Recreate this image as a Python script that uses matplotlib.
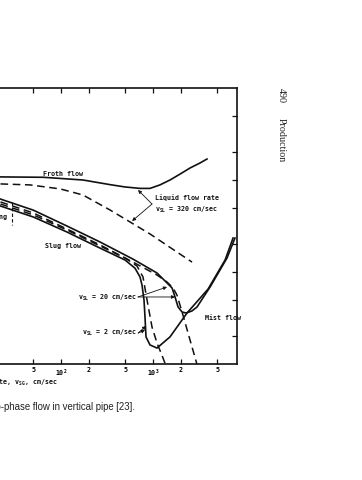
import matplotlib
matplotlib.use("Agg")
import matplotlib.pyplot as plt

# superficial gas velocity v_SG (cm/sec) against the (cropped) y scale
froth_solid_x = [22, 64, 173, 341, 496, 722, 927, 1190, 1530, 1970, 2525, 3240, 3860]
froth_solid_y = [1.08, 1.07, 1.0, 0.89, 0.84, 0.81, 0.81, 0.884, 1.0, 1.16, 1.35, 1.53, 1.69]
froth_dash_x = [22, 46, 98, 173, 341, 927, 2655]
froth_dash_y = [0.906, 0.884, 0.80, 0.687, 0.472, 0.259, 0.128]

# v_SL = 20 cm/sec
v20_solid_x = [22, 50, 116, 265, 606, 1105, 1420, 1610, 1735, 1870, 2070, 2290, 2650, 3010, 4170, 6370, 7780]
v20_solid_y = [0.62, 0.47, 0.316, 0.212, 0.138, 0.0975, 0.076, 0.067, 0.0535, 0.0417, 0.0367, 0.0358,
               0.0377, 0.0417, 0.0687, 0.142, 0.234]
v20_dash_x = [22, 50, 116, 265, 606, 1105, 1420, 1650, 1820, 2070, 2525, 3080]
v20_dash_y = [0.577, 0.438, 0.293, 0.197, 0.128, 0.0927, 0.0778, 0.067, 0.0562, 0.0367, 0.0182, 0.0091]

# v_SL = 2 cm/sec
v2_solid_x = [22, 50, 116, 265, 496, 637, 722, 759, 798, 818, 839, 927, 1105, 1530, 2340, 3970, 6070, 7410]
v2_solid_y = [0.521, 0.396, 0.272, 0.182, 0.135, 0.110, 0.0883, 0.0722, 0.0496, 0.0324, 0.0197, 0.0161,
              0.0149, 0.0197, 0.0358, 0.0653, 0.135, 0.234]
v2_dash_x = [22, 50, 116, 265, 496, 670, 778, 861, 975, 1105, 1285, 1384]
v2_dash_y = [0.548, 0.417, 0.286, 0.192, 0.142, 0.116, 0.0883, 0.0496, 0.0252, 0.0169, 0.0116, 0.0095]

x_ticks = [50, 100, 200, 500, 1000, 2000, 5000]
x_tick_labels = ['5', '10$^2$', '2', '5', '10$^3$', '2', '5']
y_ticks = [0.02, 0.05, 0.1, 0.2, 0.5, 1, 2, 5]

mono = 'DejaVu Sans Mono'
plt.rcParams['mathtext.fontset'] = 'custom'
plt.rcParams['mathtext.rm'] = mono + ':bold'
plt.rcParams['mathtext.it'] = mono + ':bold'
plt.rcParams['mathtext.bf'] = mono + ':bold'

DASH = (0, (5, 3))
lab = dict(family=mono, fontweight='bold', fontsize=4.8, color='#111111')


def arrow(ax, start, end):
    ax.annotate('', xy=end, xytext=start,
                arrowprops=dict(arrowstyle='-|>', lw=0.6, color='#111111',
                                mutation_scale=5, shrinkA=0, shrinkB=0))


fig = plt.figure(figsize=(3.62, 4.8), dpi=100, facecolor='white')
# the scan cuts off the left part of the chart, so the axes run past the left edge
ax = fig.add_axes([-0.0856, 0.2417, 0.7403, 0.575])
ax.set_xscale('log')
ax.set_yscale('log')
ax.set_xlim(10, 8180)
ax.set_ylim(0.01, 10)

ax.plot(froth_solid_x, froth_solid_y, color='#111111', lw=1.2)
ax.plot(froth_dash_x, froth_dash_y, color='#111111', lw=1.1, linestyle=DASH)
ax.plot(v20_solid_x, v20_solid_y, color='#111111', lw=1.2)
ax.plot(v20_dash_x, v20_dash_y, color='#111111', lw=1.1, linestyle=DASH)
ax.plot(v2_solid_x, v2_solid_y, color='#111111', lw=1.2)
ax.plot(v2_dash_x, v2_dash_y, color='#111111', lw=1.1, linestyle=DASH)
# bubbling / slug boundary
ax.plot([29.3, 29.3], [0.58, 0.324], color='#111111', lw=0.8, linestyle=(0, (3, 2)))

ax.text(63.7, 1.15, 'Froth flow', va='center', ha='left', **lab)
ax.text(67, 0.194, 'Slug flow', va='center', ha='left', **lab)
ax.text(3675, 0.0316, 'Mist flow', va='center', ha='left', **lab)
ax.text(26.5, 0.396, 'Bubbling', va='center', ha='right', **lab)
ax.text(1052, 0.637, 'Liquid flow rate', va='center', ha='left', **lab)
ax.text(1052, 0.472, 'v$_{SL}$ = 320 cm/sec', va='center', ha='left', **lab)
ax.text(670, 0.0521, 'v$_{SL}$ = 20 cm/sec', va='center', ha='right', **lab)
ax.text(670, 0.0217, 'v$_{SL}$ = 2 cm/sec', va='center', ha='right', **lab)

arrow(ax, (975, 0.548), (687, 0.778))
arrow(ax, (975, 0.548), (592, 0.358))
arrow(ax, (687, 0.0535), (1419, 0.0687))
arrow(ax, (687, 0.0535), (1735, 0.0535))
arrow(ax, (690, 0.0217), (818, 0.0234))
arrow(ax, (690, 0.0217), (839, 0.0259))

for s in ax.spines.values():
    s.set_linewidth(1.2)
    s.set_color('#111111')
ax.set_xticks(x_ticks)
ax.set_xticklabels(x_tick_labels)
ax.set_yticks(y_ticks)
ax.set_yticklabels([])
ax.minorticks_off()
ax.tick_params(which='both', direction='in', length=3.6, width=0.9, color='#111111',
               top=True, right=True, labelsize=4.8, pad=2.5)
for t in ax.get_xticklabels():
    t.set_family(mono)
    t.set_fontweight('bold')

fig.text(58 / 362, 1 - 382 / 480, 'Superficial gas flow rate, v$_{SG}$, cm/sec',
         ha='right', va='center', **lab)
fig.text(135 / 362, 1 - 407 / 480,
         'Figure 6-53. Flow regimes for two-phase flow in vertical pipe [23].',
         ha='right', va='center', family='Liberation Sans', fontsize=6.9, color='#222222')
fig.text(281 / 362, 1 - 95 / 480, '490', rotation=-90, ha='center', va='center',
         family='Liberation Serif', fontsize=7.2, color='#222222')
fig.text(281 / 362, 1 - 140 / 480, 'Production', rotation=-90, ha='center', va='center',
         family='Liberation Serif', fontsize=7.2, color='#222222')

fig.savefig('out.png', dpi=100, facecolor='white')
